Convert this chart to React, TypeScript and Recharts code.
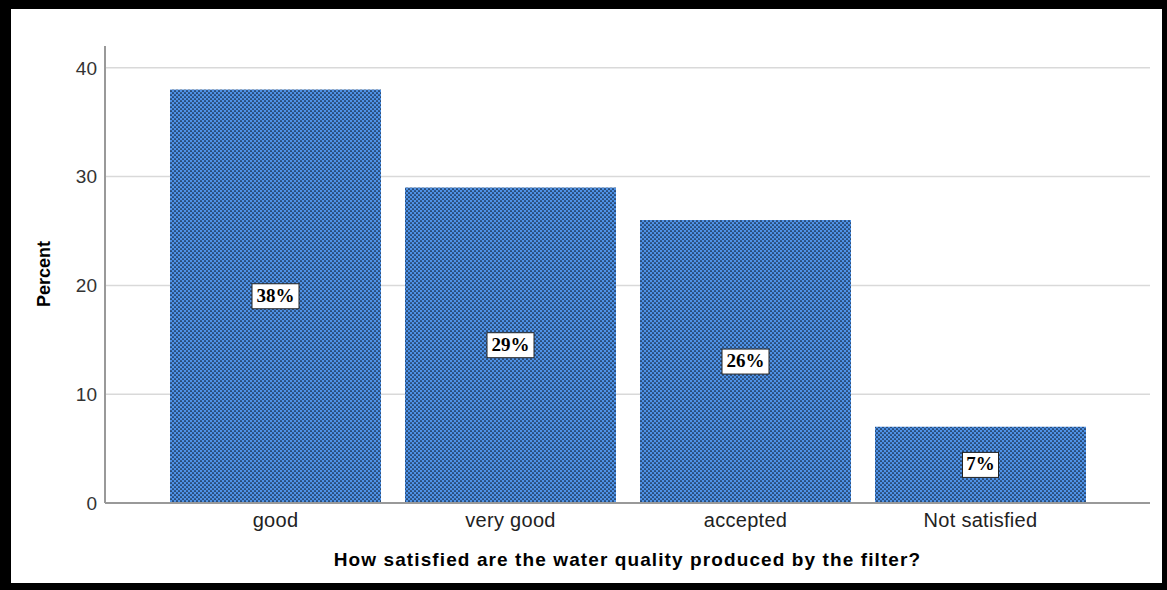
import React from 'react';
import { BarChart, Bar, XAxis, YAxis, CartesianGrid, LabelList, Label } from 'recharts';

const categories = ['good', 'very good', 'accepted', 'Not satisfied'];
const percents = [38, 29, 26, 7];
const yTicks = [0, 10, 20, 30, 40];

const data = categories.map((name, i) => ({ name, percent: percents[i] }));

const FONT = '"Liberation Sans", Arial, sans-serif';

// white boxed percentage label in the middle of each bar
function BoxLabel(props: any) {
  const { x, y, width, height, value } = props;
  const cx = x + width / 2;
  const cy = y + height / 2;
  const text = `${value}%`;
  const w = text.length * 11 + 14;
  return (
    <g>
      <rect x={cx - w / 2} y={cy - 12.5} width={w} height={25} fill="#fff" stroke="#222" strokeWidth={1} />
      <text
        x={cx}
        y={cy + 1}
        textAnchor="middle"
        dominantBaseline="middle"
        fontFamily='"Liberation Serif", "Times New Roman", serif'
        fontWeight="bold"
        fontSize={19}
        fill="#000"
      >
        {text}
      </text>
    </g>
  );
}

export default function App() {
  return (
    <div style={{ position: 'relative', width: 1167, height: 590, background: '#fff' }}>
      <style>{'body{margin:0}'}</style>
      <BarChart
        width={1167}
        height={590}
        data={data}
        margin={{ top: 46, right: 17, bottom: 57, left: 0 }}
        barCategoryGap={12}
      >
        <defs>
          <pattern id="hatch" width={4} height={4} patternUnits="userSpaceOnUse">
            <rect width={4} height={4} fill="#4f92e6" />
            <circle cx={1} cy={1} r={0.85} fill="#0b1626" />
            <circle cx={3} cy={3} r={0.85} fill="#0b1626" />
          </pattern>
        </defs>
        <CartesianGrid vertical={false} horizontalValues={yTicks} stroke="#d9d9d9" strokeWidth={1.5} />
        <XAxis
          dataKey="name"
          padding={{ left: 53, right: 52 }}
          height={30}
          tickLine={false}
          axisLine={{ stroke: '#999', strokeWidth: 2 }}
          tick={{ fill: '#222', fontSize: 20, fontFamily: FONT, letterSpacing: 0.3, dy: 2 }}
        >
          <Label
            value="How satisfied are the water quality produced by the filter?"
            position="bottom"
            offset={20}
            style={{ fontFamily: FONT, fontSize: 19, fontWeight: 'bold', fill: '#000', letterSpacing: 1.1 }}
          />
        </XAxis>
        <YAxis
          width={105}
          domain={[0, 42]}
          ticks={yTicks}
          tickLine={false}
          axisLine={{ stroke: '#999', strokeWidth: 2 }}
          tick={{ fill: '#333', fontSize: 19, fontFamily: FONT }}
        >
          <Label
            content={() => (
              <text
                x={45}
                y={274}
                transform="rotate(-90 45 274)"
                textAnchor="middle"
                dominantBaseline="middle"
                fontFamily={FONT}
                fontSize={18}
                fontWeight="bold"
                fill="#000"
              >
                Percent
              </text>
            )}
          />
        </YAxis>
        <Bar dataKey="percent" fill="url(#hatch)" isAnimationActive={false}>
          <LabelList dataKey="percent" content={BoxLabel} />
        </Bar>
      </BarChart>
      <div
        style={{
          position: 'absolute',
          inset: 0,
          boxSizing: 'border-box',
          borderStyle: 'solid',
          borderColor: '#000',
          borderWidth: '9px 5px 7px 11px',
          pointerEvents: 'none',
        }}
      />
    </div>
  );
}
